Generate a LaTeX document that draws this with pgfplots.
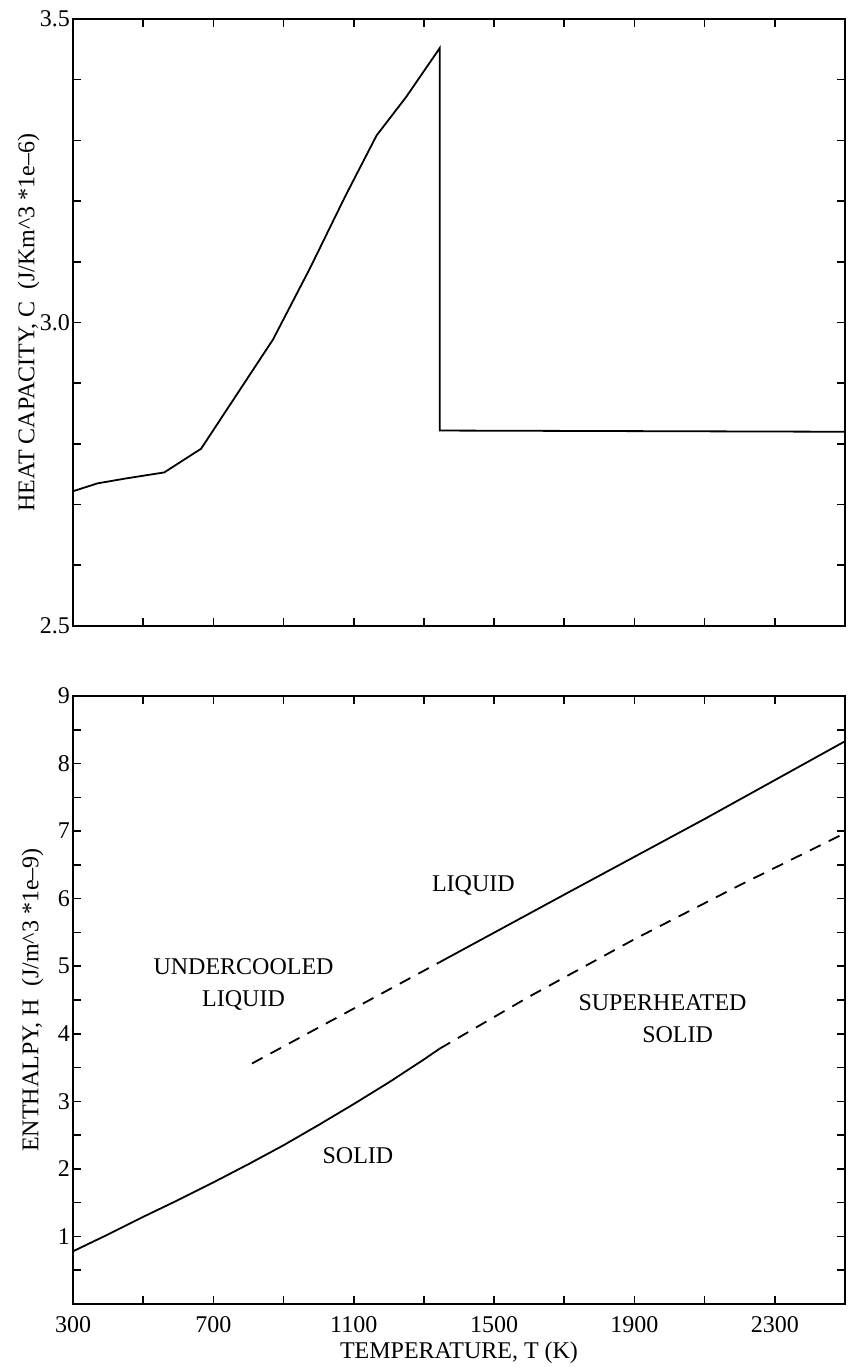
\documentclass[border=0pt]{standalone}
\usepackage{fontspec}
\setmainfont{Liberation Serif}
\usepackage{pgfplots}
\pgfplotsset{compat=1.18}
\newcommand\lbl{\fontsize{12}{14}\selectfont}
\begin{document}
\begin{tikzpicture}
\path[use as bounding box] (0,0) rectangle (424pt,683.5pt);
\pgfplotsset{
  every axis/.append style={
    scale only axis, width=386pt, anchor=south west,
    xmin=300, xmax=2500,
    axis line style={line width=0.9pt},
    major tick length=4pt, minor tick length=4pt,
    tick style={black, line width=0.8pt},
    tick label style={font=\lbl},
    label style={font=\lbl},
    /pgf/number format/assume math mode=true,
    /pgf/number format/1000 sep={},
  },
}
% Top panel: heat capacity
\begin{axis}[
  at={(36.5pt,370.5pt)}, height=303.5pt,
  ymin=2.5, ymax=3.5,
  xtick={300,500,...,2500}, xticklabels={},
  ytick={2.5,3.0,3.5},
  minor ytick={2.6,2.7,2.8,2.9,3.1,3.2,3.3,3.4},
  yticklabel style={xshift=2pt,/pgf/number format/.cd,fixed,fixed zerofill,precision=1},
  ylabel={HEAT CAPACITY, C~~(J/Km\textasciicircum3 *1e--6)},
  ylabel style={at={(axis description cs:-0.05,0.5)},anchor=base},
]
\addplot[black, line width=0.9pt] coordinates {
(300,2.722) (370,2.735) (450,2.743) (560,2.753) (665,2.792) (870,2.972)
(975,3.089) (1075,3.207) (1165,3.308) (1250,3.372) (1345,3.452)
(1345,2.822) (2500,2.820)
};
\end{axis}
% Bottom panel: enthalpy
\begin{axis}[
  at={(36.5pt,31.5pt)}, height=304pt,
  ymin=0, ymax=9,
  xtick={300,700,...,2300}, minor xtick={500,900,...,2500},
  ytick={1,...,9}, minor ytick={0.5,1.5,...,8.5},
  yticklabel style={xshift=2pt},
  xlabel={TEMPERATURE, T (K)},
  ylabel={ENTHALPY, H~~(J/m\textasciicircum3 *1e--9)},
  ylabel style={at={(axis description cs:-0.045,0.5)},anchor=base},
  xticklabel style={anchor=base, yshift=-14pt},
  xlabel style={at={(axis description cs:0.5,0)}, anchor=base, yshift=-27pt},
]
% solid
\addplot[black, line width=0.9pt] coordinates {
(300,0.78) (400,1.03) (500,1.29) (600,1.54) (700,1.80) (800,2.07) (900,2.35)
(1000,2.65) (1100,2.96) (1200,3.28) (1300,3.62) (1345,3.78)
};
% superheated solid
\addplot[black, line width=0.9pt, dash pattern=on 6pt off 4.5pt] coordinates {
(1345,3.78) (1600,4.55) (1900,5.40) (2200,6.20) (2500,6.97)
};
% liquid
\addplot[black, line width=0.9pt] coordinates {
(1345,5.06) (1700,6.06) (2100,7.18) (2500,8.33)
};
% undercooled liquid
\addplot[black, line width=0.9pt, dash pattern=on 6pt off 4.5pt] coordinates {
(810,3.56) (1345,5.06)
};
\node[font=\lbl] at (axis cs:1441,6.19) {LIQUID};
\node[font=\lbl] at (axis cs:786,4.99) {UNDERCOOLED};
\node[font=\lbl] at (axis cs:786,4.49) {LIQUID};
\node[font=\lbl] at (axis cs:1980,4.46) {SUPERHEATED};
\node[font=\lbl] at (axis cs:2023,3.98) {SOLID};
\node[font=\lbl] at (axis cs:1112,2.19) {SOLID};
\end{axis}
\end{tikzpicture}
\end{document}
